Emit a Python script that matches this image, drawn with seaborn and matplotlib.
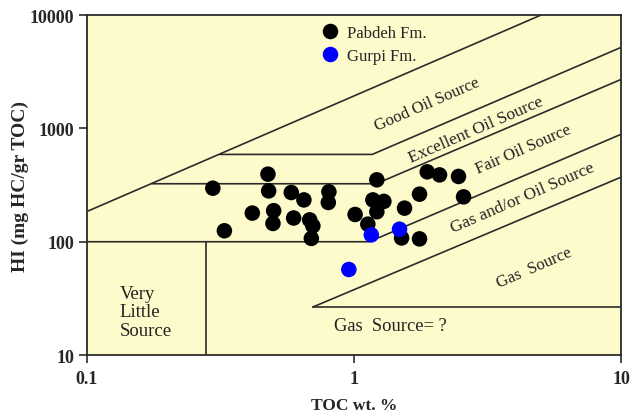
import matplotlib
matplotlib.use("Agg")
import matplotlib.pyplot as plt
import seaborn as sns
import pandas as pd

# ---- data ----
pabdeh_toc = [0.296, 0.476, 0.479, 0.582, 0.649, 0.805, 0.801, 0.416, 0.500, 0.497,
              0.594, 0.682, 0.701, 0.692, 0.327, 1.009, 1.217, 1.879, 2.089, 2.46,
              2.57, 1.758, 1.176, 1.293, 1.217, 1.545, 1.126, 1.506, 1.758]
pabdeh_hi = [297, 395, 281, 272, 234, 276, 222, 179, 188, 145,
             162, 156, 138, 107, 125, 174, 352, 414, 389, 377,
             249, 263, 234, 227, 184, 198, 143, 108, 106]
gurpi_toc = [0.956, 1.160, 1.48]
gurpi_hi = [56.9, 115, 129]
formations = ["Pabdeh Fm.", "Gurpi Fm."]

# ---- classification boundaries (data units) ----
bound_1 = ([0.1, 5.0], [185, 10000])
bound_2 = ([0.315, 1.17, 10], [590, 590, 5200])
bound_3 = ([0.175, 1.21, 10], [325, 325, 2710])
bound_4 = ([0.1, 1.14, 10], [100, 100, 889])
bound_5 = ([0.70, 10], [26.5, 372])
bound_6 = ([0.70, 10], [26.5, 26.5])
bound_7 = ([0.28, 0.28], [10, 100])

df = pd.DataFrame({
    "TOC": pabdeh_toc + gurpi_toc,
    "HI": pabdeh_hi + gurpi_hi,
    "Formation": [formations[0]] * len(pabdeh_toc) + [formations[1]] * len(gurpi_toc),
})

sns.set_style("ticks")
plt.rcParams["font.family"] = ["Liberation Serif", "DejaVu Serif"]

fig = plt.figure(figsize=(6.3, 4.14), dpi=100)
ax = fig.add_axes([0.138, 0.140, 0.848, 0.821])
ax.set_facecolor("#FDFACB")

line_kw = dict(color="#2b2b2b", lw=1.2, zorder=1)
for bx, by in [bound_1, bound_2, bound_3, bound_4, bound_5, bound_6, bound_7]:
    ax.plot(bx, by, **line_kw)

sns.scatterplot(data=df, x="TOC", y="HI", hue="Formation",
                palette={formations[0]: "black", formations[1]: "#0000FF"},
                s=125, edgecolor="none", ax=ax, zorder=3)

ax.set_xscale("log")
ax.set_yscale("log")
ax.set_xlim(0.1, 10)
ax.set_ylim(10, 10000)
ax.set_xticks([0.1, 1, 10])
ax.set_xticklabels(["0.1", "1", "10"])
ax.set_yticks([10, 100, 1000, 10000])
ax.set_yticklabels(["10", "100", "1000", "10000"])
ax.minorticks_off()
ax.tick_params(axis="both", which="major", length=6, width=1.2, color="#2b2b2b",
               labelsize=13, direction="out", pad=3)
ax.tick_params(axis="x", pad=5)
for lab in ax.get_xticklabels() + ax.get_yticklabels():
    lab.set_fontweight("bold")
for sp in ax.spines.values():
    sp.set_color("#2b2b2b")
    sp.set_linewidth(1.3)

ax.set_xlabel("TOC wt. %", fontsize=12.5, fontweight="bold", labelpad=7)
ax.set_ylabel("HI (mg HC/gr TOC)", fontsize=14, fontweight="bold", labelpad=1)

handles, labels = ax.get_legend_handles_labels()
ax.legend(handles, labels, loc="upper left", bbox_to_anchor=(0.405, 1.0),
          frameon=False, handletextpad=0.0, labelspacing=0.4, fontsize=12,
          markerscale=1.0, borderaxespad=0.2)

tkw = dict(fontsize=12, color="#222222", ha="center", va="center", rotation=23.5,
           rotation_mode="anchor")
ax.text(1.87, 1633, "Good Oil Source", **tkw)
ax.text(2.85, 984, "Excellent Oil Source", fontsize=12.5, color="#222222", ha="center",
        va="center", rotation=23.5, rotation_mode="anchor")
ax.text(4.31, 656, "Fair Oil Source", **tkw)
ax.text(4.27, 248, "Gas and/or Oil Source", fontsize=12.5, color="#222222", ha="center",
        va="center", rotation=23.5, rotation_mode="anchor")
ax.text(4.74, 59.8, "Gas  Source", **tkw)
ax.text(1.37, 18.2, "Gas  Source= ?", fontsize=13.3, color="#222222", ha="center", va="center")
ax.text(0.1325, 24, "Very\nLittle\nSource", fontsize=13.5, color="#222222", ha="left",
        va="center", linespacing=1.1)

fig.savefig("out.png", dpi=100, facecolor="white")
